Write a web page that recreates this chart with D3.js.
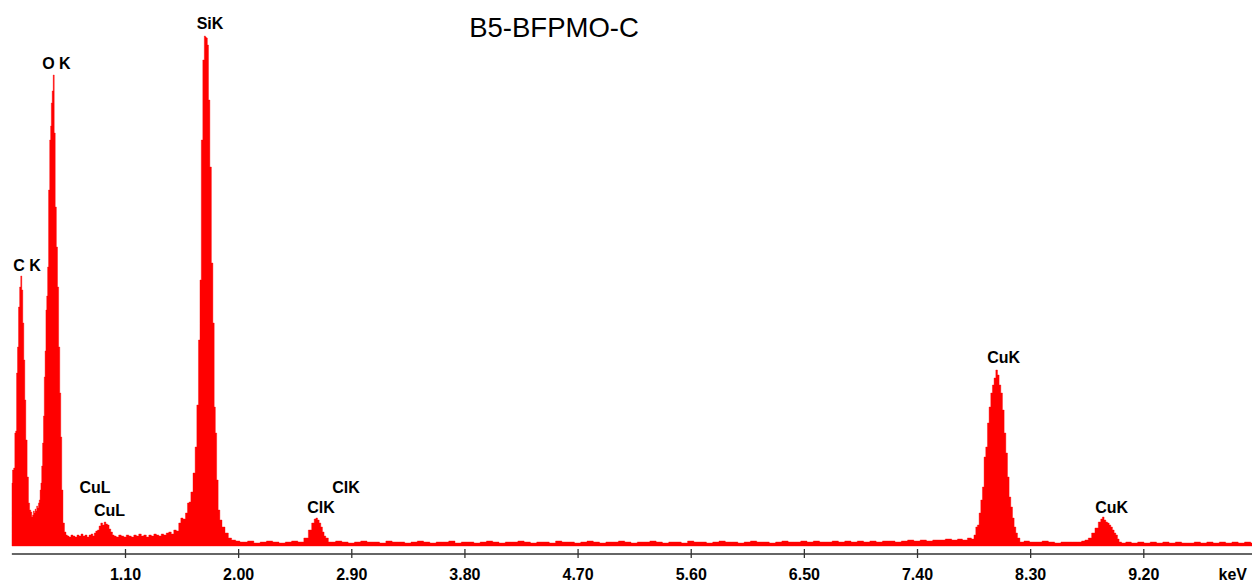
<!DOCTYPE html>
<html>
<head>
<meta charset="utf-8">
<script src="https://cdn.jsdelivr.net/npm/d3@7"></script>
<style>
  html, body { margin: 0; padding: 0; background: #fff; }
  svg { display: block; }
</style>
</head>
<body>
<svg id="chart" width="1252" height="587"></svg>
<script>
// ---- DATA (energy in keV, counts) ----
const title = "B5-BFPMO-C";
const axisUnit = "keV";
const tickValues = [1.10, 2.00, 2.90, 3.80, 4.70, 5.60, 6.50, 7.40, 8.30, 9.20];

// C K and O K region
const lowRegion = [
  [0.201, 630], [0.209, 760], [0.220, 780], [0.227, 1130], [0.234, 1150], [0.241, 1730],
  [0.249, 1990], [0.257, 2390], [0.267, 2590], [0.275, 2700], [0.283, 2560], [0.291, 2230],
  [0.299, 1860], [0.307, 1460], [0.315, 1060], [0.328, 690], [0.336, 430], [0.346, 360],
  [0.355, 340], [0.362, 290], [0.368, 310], [0.375, 350], [0.382, 330], [0.388, 370],
  [0.394, 350], [0.401, 400], [0.408, 380], [0.415, 430], [0.421, 460], [0.428, 560],
  [0.434, 630], [0.441, 800], [0.448, 1030], [0.455, 1300], [0.461, 1690], [0.468, 1950],
  [0.474, 2360], [0.481, 2500], [0.488, 2790], [0.496, 3560], [0.506, 4060], [0.511, 4200],
  [0.517, 4430], [0.525, 4550], [0.533, 4710], [0.541, 4130], [0.549, 3390], [0.559, 2990],
  [0.567, 2590], [0.577, 1990], [0.585, 1530], [0.593, 1090], [0.601, 560], [0.612, 230],
  [0.625, 140], [0.636, 110]
];

// Cu L and Si K region
const siRegion = [
  [0.647, 100], [0.662, 90], [0.678, 110], [0.694, 100], [0.710, 90], [0.726, 110],
  [0.742, 100], [0.758, 120], [0.774, 100], [0.790, 110], [0.806, 90], [0.822, 110],
  [0.838, 120], [0.850, 100], [0.861, 130], [0.874, 150], [0.888, 160], [0.900, 200],
  [0.915, 230], [0.928, 210], [0.941, 240], [0.954, 220], [0.967, 210], [0.980, 170],
  [0.994, 140], [1.007, 110], [1.020, 100], [1.040, 90], [1.060, 110], [1.080, 100],
  [1.100, 90], [1.120, 110], [1.140, 100], [1.160, 90], [1.180, 110], [1.200, 100],
  [1.219, 120], [1.240, 100], [1.259, 110], [1.280, 90], [1.299, 110], [1.320, 100],
  [1.339, 120], [1.360, 110], [1.378, 100], [1.398, 120], [1.418, 110], [1.438, 130],
  [1.458, 140], [1.478, 120], [1.498, 160], [1.518, 150], [1.537, 230], [1.551, 280],
  [1.571, 270], [1.591, 330], [1.603, 430], [1.617, 440], [1.631, 540], [1.651, 730],
  [1.665, 990], [1.678, 1410], [1.691, 2060], [1.702, 2660], [1.712, 4060], [1.726, 4860],
  [1.736, 5100], [1.743, 5090], [1.750, 5080], [1.760, 5010], [1.768, 4460], [1.782, 3790],
  [1.792, 2830], [1.806, 2230], [1.813, 1390], [1.824, 1130], [1.834, 660], [1.848, 360],
  [1.861, 260], [1.882, 190], [1.909, 130], [1.935, 80], [1.961, 60], [2.000, 50],
  [2.028, 40]
];

// Cl K and flat background
const midRegion = [
  [2.05, 40], [2.10, 50], [2.15, 30], [2.20, 40], [2.25, 50], [2.30, 40], [2.35, 30],
  [2.40, 40], [2.45, 50], [2.50, 40], [2.545, 80], [2.572, 160], [2.598, 230], [2.612, 270],
  [2.625, 280], [2.638, 260], [2.651, 230], [2.664, 190], [2.677, 140], [2.690, 100],
  [2.704, 80], [2.731, 40], [2.75, 40], [2.80, 50], [2.85, 40], [2.90, 30], [2.95, 40],
  [3.00, 50], [3.05, 40], [3.10, 40], [3.15, 30], [3.20, 50], [3.25, 40], [3.30, 40],
  [3.35, 30], [3.40, 40], [3.45, 50], [3.50, 40], [3.55, 30], [3.60, 40], [3.65, 40],
  [3.70, 50], [3.75, 30], [3.80, 40], [3.85, 40], [3.90, 30], [3.95, 40], [4.00, 50],
  [4.05, 40], [4.10, 30], [4.15, 40], [4.20, 40], [4.25, 50], [4.30, 40], [4.35, 30],
  [4.40, 40], [4.45, 40], [4.50, 30], [4.55, 50], [4.60, 40], [4.65, 40], [4.70, 30],
  [4.75, 40], [4.80, 50], [4.85, 40], [4.90, 30], [4.95, 40], [5.00, 40], [5.05, 50],
  [5.10, 40], [5.15, 30], [5.20, 40], [5.25, 40], [5.30, 50], [5.35, 40], [5.40, 30],
  [5.45, 40], [5.50, 40], [5.55, 30], [5.60, 50], [5.65, 40], [5.70, 40], [5.75, 30],
  [5.80, 40], [5.85, 50], [5.90, 40], [5.95, 40], [6.00, 30], [6.05, 40], [6.10, 50],
  [6.15, 40], [6.20, 40], [6.25, 30], [6.30, 40], [6.35, 50], [6.40, 40], [6.45, 40],
  [6.50, 50], [6.55, 40], [6.60, 50], [6.65, 40], [6.70, 40], [6.75, 50], [6.80, 40],
  [6.85, 50], [6.90, 40], [6.95, 50], [7.00, 40], [7.05, 50], [7.10, 40], [7.15, 50],
  [7.20, 50], [7.25, 40], [7.30, 50], [7.35, 60], [7.40, 50], [7.45, 60], [7.50, 50],
  [7.55, 60], [7.60, 60], [7.65, 70]
];

// Cu K alpha / beta region
const cuRegion = [
  [7.702, 60], [7.742, 70], [7.781, 60], [7.821, 80], [7.845, 70], [7.861, 110],
  [7.874, 190], [7.887, 210], [7.901, 330], [7.914, 460], [7.927, 590], [7.940, 890],
  [7.954, 990], [7.967, 1230], [7.980, 1390], [7.994, 1530], [8.006, 1610], [8.020, 1680],
  [8.034, 1760], [8.046, 1710], [8.060, 1610], [8.073, 1530], [8.086, 1360], [8.100, 1130],
  [8.113, 930], [8.126, 690], [8.139, 490], [8.153, 390], [8.166, 280], [8.179, 190],
  [8.193, 130], [8.205, 80], [8.232, 40], [8.27, 50], [8.32, 40], [8.37, 40], [8.42, 50],
  [8.47, 40], [8.52, 30], [8.57, 40], [8.617, 40], [8.656, 40], [8.696, 40], [8.722, 50],
  [8.749, 60], [8.776, 80], [8.802, 130], [8.829, 180], [8.855, 240], [8.868, 270],
  [8.881, 290], [8.895, 260], [8.909, 240], [8.922, 230], [8.935, 210], [8.948, 190],
  [8.961, 160], [8.975, 130], [8.988, 110], [9.001, 70], [9.014, 40], [9.041, 30],
  [9.08, 40], [9.13, 30], [9.18, 40], [9.23, 30], [9.28, 40], [9.33, 30], [9.38, 40],
  [9.43, 30], [9.48, 40], [9.53, 30], [9.58, 30], [9.63, 40], [9.68, 30], [9.73, 40],
  [9.78, 30], [9.83, 40], [9.88, 30], [9.93, 40], [9.98, 30], [10.03, 40], [10.08, 30]
];

// Peak labels: name, energy (keV) and level (counts) at which the label sits
const peakNames  = ["C K", "O K", "SiK", "CuL", "CuL", "ClK", "ClK", "CuK", "CuK"];
const peakKeV    = [0.321, 0.554, 1.776, 0.861, 0.977, 2.858, 2.659, 8.089, 8.948];
const peakLevels = [2750, 4770, 5170, 530, 300, 530, 330, 1830, 333];

// ---- CHART ----
const W = 1252, H = 587;
const svg = d3.select("#chart");

const x = d3.scaleLinear().domain([1.1, 9.2]).range([125, 1143.3]);
const y = d3.scaleLinear().domain([0, 5200]).range([546, 26]);

const spectrum = [].concat(lowRegion, siRegion, midRegion, cuRegion);

const area = d3.area()
  .x(d => x(d[0]))
  .y0(y(0))
  .y1(d => y(d[1]))
  .curve(d3.curveStep);

svg.append("path")
  .datum(spectrum)
  .attr("d", area)
  .attr("fill", "#ff0000")
  .attr("stroke", "#ff0000")
  .attr("stroke-width", 0.4);

// axis line
const axisY = 554;
svg.append("line")
  .attr("x1", x(0.2)).attr("x2", W)
  .attr("y1", axisY).attr("y2", axisY)
  .attr("stroke", "#333").attr("stroke-width", 1.5);

const axis = d3.axisBottom(x)
  .tickValues(tickValues)
  .tickFormat(d3.format(".2f"))
  .tickSize(9);

const gAxis = svg.append("g")
  .attr("transform", `translate(0,${axisY - 5})`)
  .call(axis);
gAxis.select(".domain").remove();
gAxis.selectAll(".tick line").attr("stroke", "#333").attr("stroke-width", 1.3);
gAxis.selectAll(".tick text")
  .attr("y", 31).attr("dy", null)
  .attr("fill", "#000")
  .style("font-family", "'Liberation Sans', Arial, sans-serif")
  .style("font-weight", "bold")
  .style("font-size", "16px");

svg.append("text")
  .attr("x", 1247).attr("y", 580)
  .attr("text-anchor", "end")
  .style("font-family", "'Liberation Sans', Arial, sans-serif")
  .style("font-weight", "bold")
  .style("font-size", "16px")
  .text(axisUnit);

// title
svg.append("text")
  .attr("x", 554).attr("y", 36.5)
  .attr("text-anchor", "middle")
  .style("font-family", "'Liberation Sans', Arial, sans-serif")
  .style("font-size", "27.5px")
  .attr("fill", "#000")
  .text(title);

// peak labels
svg.append("g").selectAll("text")
  .data(peakNames.map((n, i) => ({ name: n, e: peakKeV[i], lvl: peakLevels[i] })))
  .join("text")
  .attr("x", d => x(d.e))
  .attr("y", d => y(d.lvl))
  .attr("text-anchor", "middle")
  .style("font-family", "'Liberation Sans', Arial, sans-serif")
  .style("font-weight", "bold")
  .style("font-size", "16px")
  .attr("fill", "#000")
  .text(d => d.name);
</script>
</body>
</html>
